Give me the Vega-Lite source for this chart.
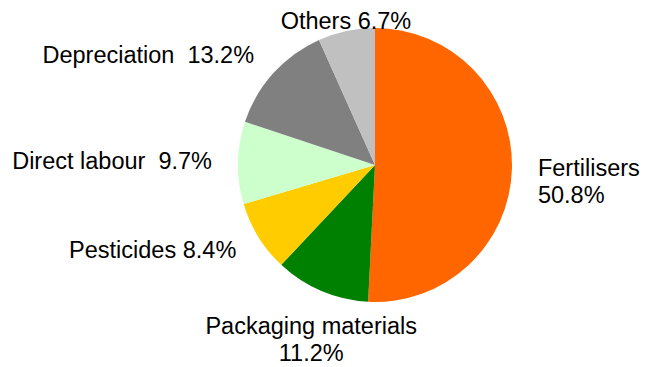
{
  "$schema": "https://vega.github.io/schema/vega-lite/v6.json",
  "width": 550,
  "height": 330,
  "autosize": {"type": "none"},
  "padding": {"left": 100, "top": 0, "right": 2, "bottom": 37},
  "background": "white",
  "config": {"view": {"stroke": null}, "text": {"font": "Liberation Sans"}},
  "data": {
    "values": [
      {"category": "Fertilisers", "value": 50.8, "order": 1, "label": "Fertilisers\n50.8%"},
      {"category": "Packaging materials", "value": 11.2, "order": 2, "label": "Packaging materials\n11.2%"},
      {"category": "Pesticides", "value": 8.4, "order": 3, "label": "Pesticides 8.4%"},
      {"category": "Direct labour", "value": 9.7, "order": 4, "label": "Direct labour\u00a0 9.7%"},
      {"category": "Depreciation", "value": 13.2, "order": 5, "label": "Depreciation\u00a0 13.2%"},
      {"category": "Others", "value": 6.7, "order": 6, "label": "Others 6.7%"}
    ]
  },
  "encoding": {
    "theta": {"field": "value", "type": "quantitative", "stack": true},
    "order": {"field": "order", "type": "quantitative"}
  },
  "layer": [
    {
      "mark": {"type": "arc", "outerRadius": 137},
      "encoding": {
        "color": {
          "field": "category",
          "type": "nominal",
          "scale": {
            "domain": ["Fertilisers", "Packaging materials", "Pesticides", "Direct labour", "Depreciation", "Others"],
            "range": ["#FF6600", "#008000", "#FFCC00", "#CCFFCC", "#808080", "#C0C0C0"]
          },
          "legend": null
        }
      }
    },
    {
      "mark": {
        "type": "text",
        "radius": {"expr": "cos(PI*(datum.value_start+datum.value_end)/100) > 0.7 ? 139 : 163"},
        "fontSize": 23.5,
        "lineHeight": 27,
        "lineBreak": "\n",
        "color": "black",
        "align": {"expr": "sin(PI*(datum.value_start+datum.value_end)/100) > 0.4 ? 'left' : (sin(PI*(datum.value_start+datum.value_end)/100) < -0.4 ? 'right' : 'center')"},
        "baseline": {"expr": "cos(PI*(datum.value_start+datum.value_end)/100) > 0.7 ? 'alphabetic' : (cos(PI*(datum.value_start+datum.value_end)/100) < -0.7 ? 'top' : 'middle')"}
      },
      "encoding": {"text": {"field": "label", "type": "nominal"}}
    }
  ]
}
